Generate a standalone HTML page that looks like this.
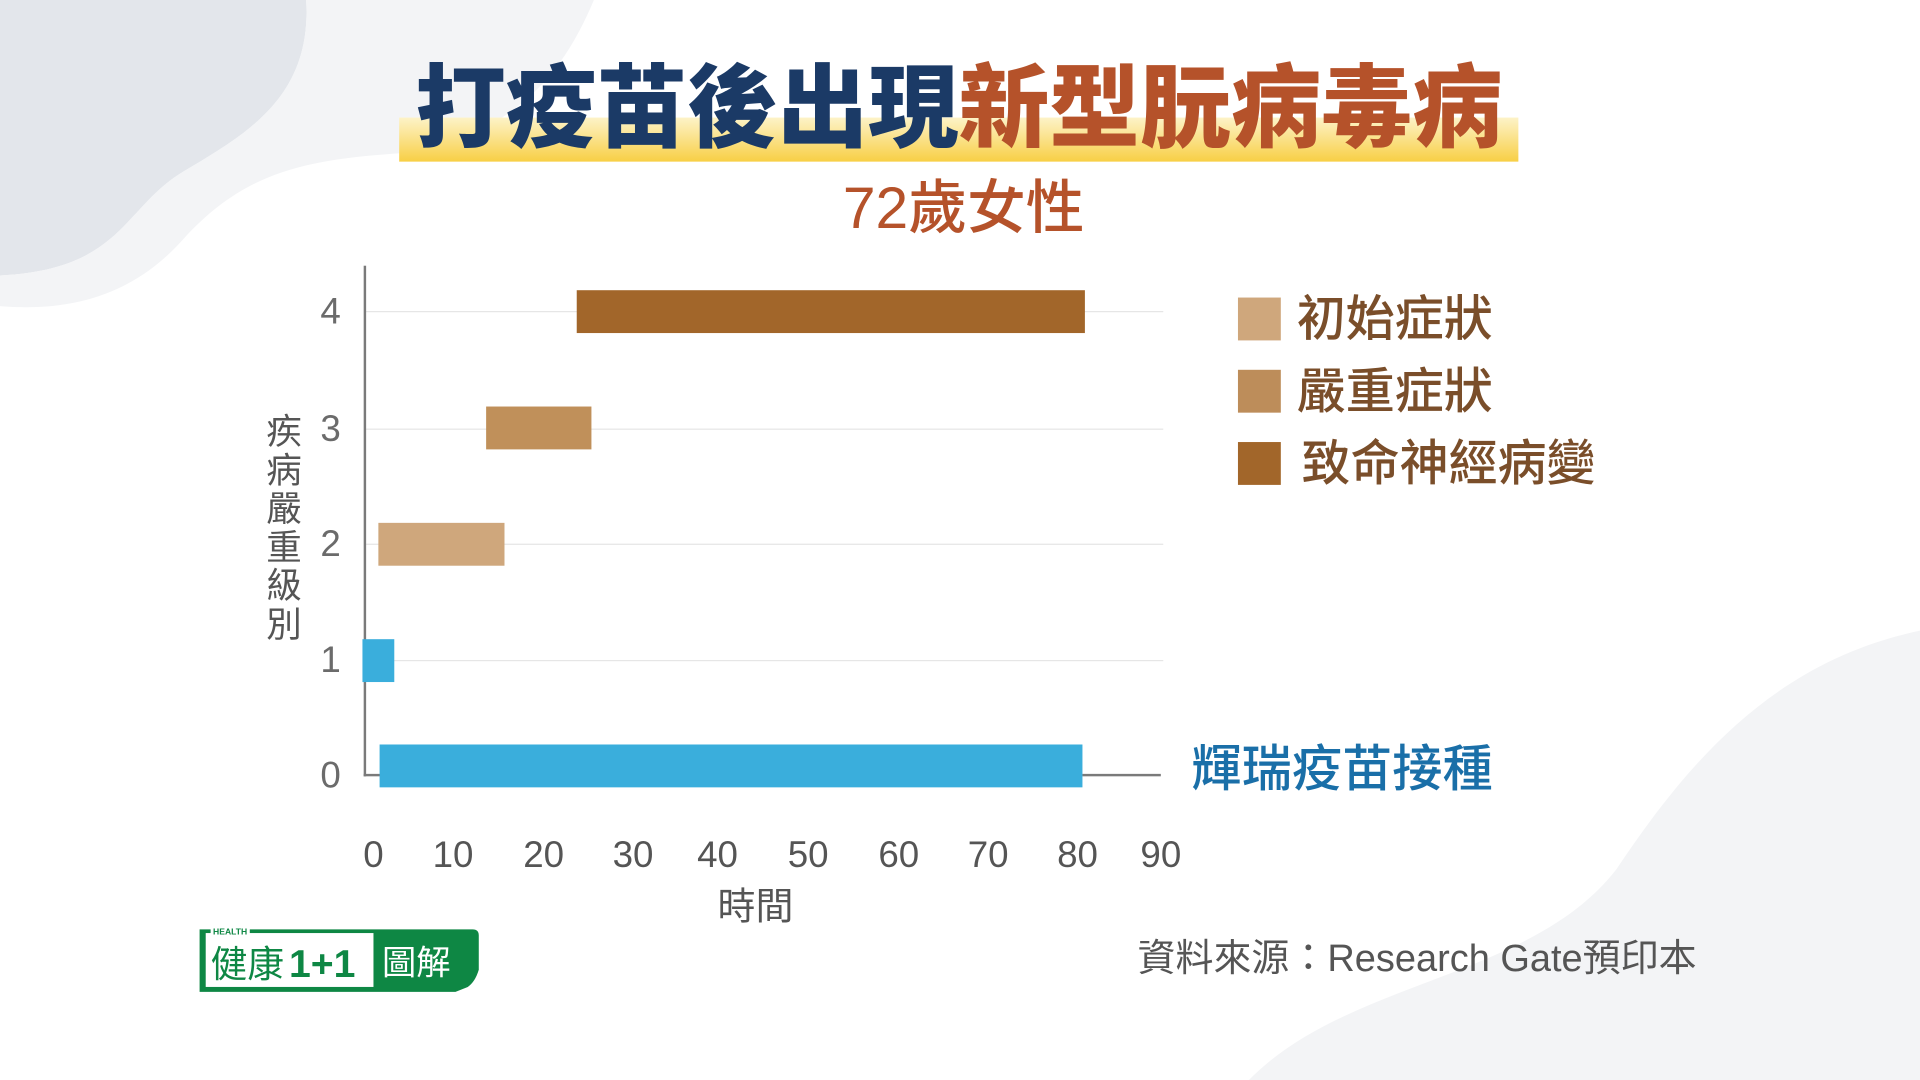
<!DOCTYPE html>
<html><head><meta charset="utf-8"><style>
html,body{margin:0;padding:0;width:1920px;height:1080px;overflow:hidden;background:#fff}
#s{position:absolute;left:0;top:0;width:1568px;height:882px;transform:scale(1.22449);transform-origin:0 0;font-family:"Liberation Sans","Noto Sans CJK TC",sans-serif}
.a{position:absolute;white-space:nowrap}
.bar{position:absolute}
.g{position:absolute;left:298px;width:652px;height:1px;background:#e6e6e6}
.yl{position:absolute;left:255px;width:30px;text-align:center;font-size:30px;color:#6b6b6b;line-height:30px}
.xl{position:absolute;top:682px;width:60px;text-align:center;font-size:30px;color:#555;line-height:34px}
.lg{position:absolute;left:1011px;width:35px;height:35px}
.lt{position:absolute;left:1059px;font-size:40px;color:#7a4e2a;font-weight:500;line-height:40px}
</style></head><body><div id="s">
<svg class="a" style="left:0;top:0" width="1568" height="882">
<path d="M0 0 H250 C255 80 200 110 150 140 C100 170 100 220 0 225 Z" fill="#e3e6eb"/>
<path d="M250 0 H485 C460 60 420 110 330 125 C250 130 200 140 150 195 C110 240 60 255 0 250 V225 C100 220 100 170 150 140 C200 110 255 80 250 0Z" fill="#f3f4f6"/>
<path d="M1568 515 C1450 540 1380 620 1320 710 C1250 800 1100 800 1020 882 H1568 Z" fill="#f3f4f6"/>
<defs><linearGradient id="yg" x1="0" y1="0" x2="0" y2="1"><stop offset="0" stop-color="#fdf3c8"/><stop offset="1" stop-color="#f8cf45"/></linearGradient></defs>
<rect x="326" y="96" width="914" height="36" fill="url(#yg)"/>
</svg>
<div class="a" style="left:326px;top:46px;width:914px;text-align:center;font-size:74px;font-weight:900;line-height:86px;letter-spacing:0px"><span style="color:#1b3a66">打疫苗後出現</span><span style="color:#b5522a">新型朊病毒病</span></div>
<div class="a" style="left:587px;top:143px;width:400px;text-align:center;font-size:48px;color:#b5522a;font-weight:500;line-height:56px">72歲女性</div>

<div class="g" style="top:254px"></div><div class="g" style="top:350px"></div><div class="g" style="top:444px"></div><div class="g" style="top:539px"></div>
<div class="a" style="left:297px;top:217px;width:2px;height:417px;background:#7a7a7a"></div>
<div class="a" style="left:297px;top:632px;width:14px;height:2px;background:#7a7a7a"></div>
<div class="a" style="left:884px;top:632px;width:64px;height:2px;background:#7a7a7a"></div>

<div class="bar" style="left:471px;top:237px;width:415px;height:35px;background:#a2662a"></div>
<div class="bar" style="left:397px;top:332px;width:86px;height:35px;background:#c0905a"></div>
<div class="bar" style="left:309px;top:427px;width:103px;height:35px;background:#cfa77c"></div>
<div class="bar" style="left:296px;top:522px;width:26px;height:35px;background:#3aaedc"></div>
<div class="bar" style="left:310px;top:608px;width:574px;height:35px;background:#3aaedc"></div>

<div class="yl" style="top:240px">4</div><div class="yl" style="top:336px">3</div><div class="yl" style="top:430px">2</div><div class="yl" style="top:525px">1</div><div class="yl" style="top:619px">0</div>
<div class="xl" style="left:275px">0</div><div class="xl" style="left:340px">10</div><div class="xl" style="left:414px">20</div><div class="xl" style="left:487px">30</div><div class="xl" style="left:556px">40</div><div class="xl" style="left:630px">50</div><div class="xl" style="left:704px">60</div><div class="xl" style="left:777px">70</div><div class="xl" style="left:850px">80</div><div class="xl" style="left:918px">90</div>
<div class="a" style="left:567px;top:722px;width:100px;text-align:center;font-size:31px;color:#555;line-height:38px">時間</div>
<div class="a" style="left:214px;top:338px;width:36px;font-size:29px;color:#555;line-height:31.5px;white-space:normal;text-align:center">疾病嚴重級別</div>

<div class="lg" style="top:243px;background:#cfa77c"></div><div class="lt" style="top:241px">初始症狀</div>
<div class="lg" style="top:302px;background:#bd8d5a"></div><div class="lt" style="top:300px">嚴重症狀</div>
<div class="lg" style="top:361px;background:#a2662a"></div><div class="lt" style="top:359px;left:1063px">致命神經病變</div>
<div class="a" style="left:973px;top:605px;font-size:41px;color:#1a6fa8;font-weight:500;line-height:46px">輝瑞疫苗接種</div>
<div class="a" style="left:929px;top:764px;font-size:31px;color:#555;line-height:38px">資料來源：Research Gate預印本</div>

<svg class="a" style="left:160px;top:754px" width="235" height="60">
<path d="M3 5 H226 Q231 5 231 10 V38 Q228 48 222 52 L212 56 H3 Z" fill="#0e8744"/>
<rect x="8" y="8" width="137" height="44" fill="#fff"/>
<rect x="12" y="2" width="32" height="8" fill="#fff"/>
<text x="14" y="9" font-size="7" font-weight="bold" fill="#0e8744" font-family="Liberation Sans">HEALTH</text>
<text x="12" y="44" font-size="30" fill="#0e8744" font-family="Liberation Sans,Noto Sans CJK TC,sans-serif">健康</text>
<text x="76" y="44" font-size="32" font-weight="bold" fill="#0e8744" font-family="Liberation Sans,sans-serif">1+1</text>
<text x="152" y="42" font-size="28" fill="#fff" font-family="Liberation Sans,Noto Sans CJK TC,sans-serif">圖解</text>
</svg>
</div></body></html>
